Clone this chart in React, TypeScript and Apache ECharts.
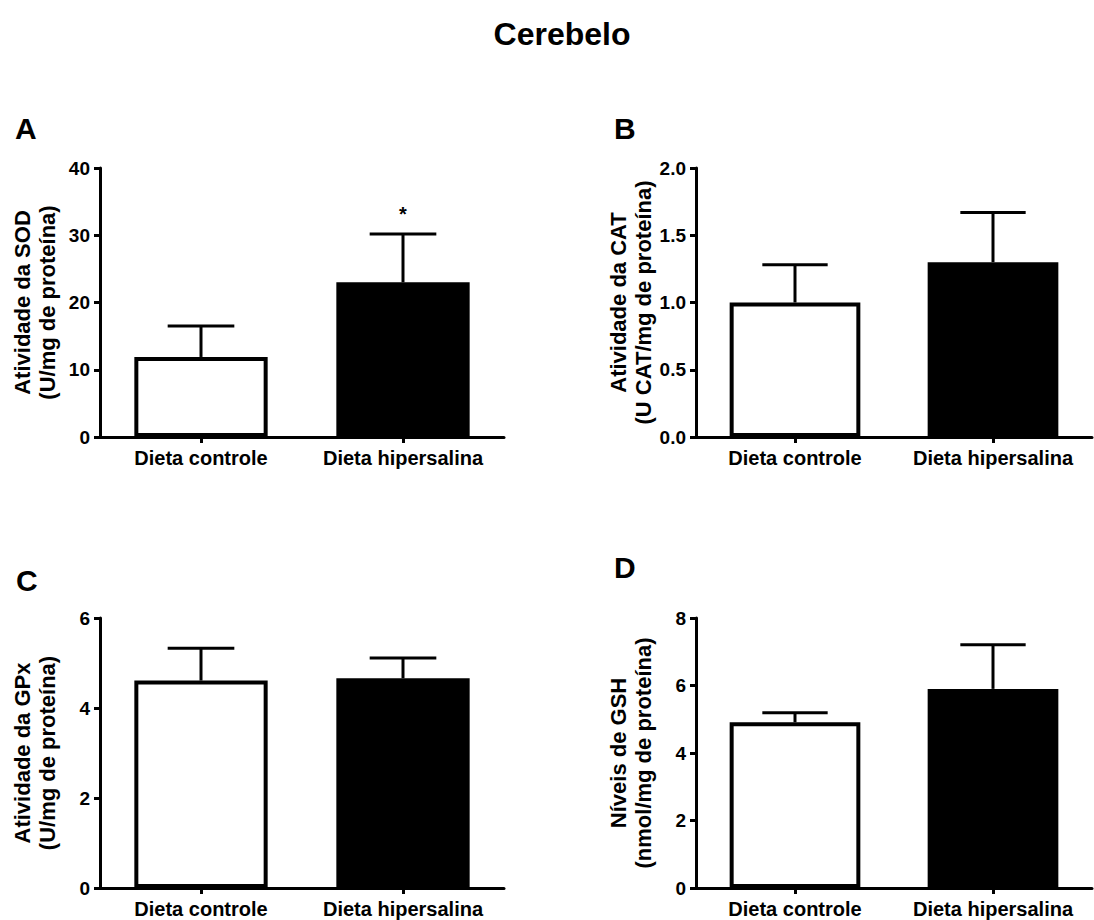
import React, { useEffect, useRef } from "react";
import * as echarts from "echarts";

const categories = ["Dieta controle", "Dieta hipersalina"];
const barFills = ["#ffffff", "#000000"];

const sodMean = [11.9, 23.0];
const sodErrTop = [16.5, 30.2];
const sodSig = ["", "*"];

const catMean = [1.0, 1.3];
const catErrTop = [1.28, 1.67];
const catSig = ["", ""];

const gpxMean = [4.61, 4.66];
const gpxErrTop = [5.33, 5.11];
const gpxSig = ["", ""];

const gshMean = [4.91, 5.9];
const gshErrTop = [5.19, 7.21];
const gshSig = ["", ""];

const panelLetters = ["A", "B", "C", "D"];
const yTitles = [
  "Atividade da SOD\n(U/mg de proteína)",
  "Atividade da CAT\n(U CAT/mg de proteína)",
  "Atividade da GPx\n(U/mg de proteína)",
  "Níveis de GSH\n(nmol/mg de proteína)",
];
const yMax = [40, 2, 6, 8];
const yInterval = [10, 0.5, 2, 2];
const yDecimals = [0, 1, 0, 0];
const chartTitle = "Cerebelo";

const FONT = "'Liberation Sans', Arial, Helvetica, sans-serif";

export default function App() {
  const ref = useRef<HTMLDivElement>(null);

  useEffect(() => {
    if (!ref.current) return;
    const chart = echarts.init(ref.current, undefined, { renderer: "svg" });

    const means = [sodMean, catMean, gpxMean, gshMean];
    const errs = [sodErrTop, catErrTop, gpxErrTop, gshErrTop];
    const sigs = [sodSig, catSig, gpxSig, gshSig];

    const grids = [
      { left: 100, top: 168, width: 404, height: 269 },
      { left: 696, top: 168, width: 396, height: 269 },
      { left: 100, top: 618, width: 404, height: 270 },
      { left: 696, top: 618, width: 396, height: 270 },
    ];
    const letterPos = [
      { x: 15, y: 128 },
      { x: 614, y: 128 },
      { x: 16, y: 580 },
      { x: 614, y: 567 },
    ];

    const xAxes = grids.map((_, i) => ({
      type: "category",
      gridIndex: i,
      data: categories,
      axisLine: { show: true, lineStyle: { color: "#000", width: 3 } },
      axisTick: { show: true, alignWithLabel: true, length: 6, lineStyle: { color: "#000", width: 3 } },
      axisLabel: {
        color: "#000",
        fontFamily: FONT,
        fontWeight: "bold",
        fontSize: 20,
        margin: 11,
        interval: 0,
        hideOverlap: false,
      },
      splitLine: { show: false },
    }));

    const yAxes = grids.map((_, i) => ({
      type: "value",
      gridIndex: i,
      min: 0,
      max: yMax[i],
      interval: yInterval[i],
      name: yTitles[i],
      nameLocation: "middle",
      nameRotate: 90,
      nameGap: 40,
      nameTextStyle: { color: "#000", fontFamily: FONT, fontWeight: "bold", fontSize: 22, lineHeight: 25 },
      axisLine: { show: true, lineStyle: { color: "#000", width: 3 } },
      axisTick: { show: true, length: 6, lineStyle: { color: "#000", width: 3 } },
      axisLabel: {
        color: "#000",
        fontFamily: FONT,
        fontWeight: "bold",
        fontSize: 19,
        margin: 10,
        formatter: (v: number) => v.toFixed(yDecimals[i]),
      },
      splitLine: { show: false },
    }));

    const series: any[] = [];
    grids.forEach((_, i) => {
      series.push({
        type: "bar",
        xAxisIndex: i,
        yAxisIndex: i,
        barWidth: "66%",
        data: means[i].map((v, j) => ({
          value: v,
          itemStyle: { color: barFills[j], borderColor: "#000", borderWidth: 4 },
        })),
        z: 2,
      });
      series.push({
        type: "custom",
        xAxisIndex: i,
        yAxisIndex: i,
        z: 3,
        data: means[i].map((v, j) => [j, v, errs[i][j]]),
        encode: { x: 0, y: [1, 2] },
        renderItem: (params: any, api: any) => {
          const j = api.value(0);
          const base = api.coord([j, api.value(1)]);
          const top = api.coord([j, api.value(2)]);
          const hw = api.size([1, 0])[0] * 0.165;
          const children: any[] = [
            {
              type: "line",
              shape: { x1: base[0], y1: base[1], x2: top[0], y2: top[1] },
              style: { stroke: "#000", lineWidth: 3 },
            },
            {
              type: "line",
              shape: { x1: top[0] - hw, y1: top[1], x2: top[0] + hw, y2: top[1] },
              style: { stroke: "#000", lineWidth: 3 },
            },
          ];
          const s = sigs[i][j];
          if (s) {
            children.push({
              type: "text",
              style: {
                text: s,
                x: top[0],
                y: top[1] - 20,
                align: "center",
                verticalAlign: "middle",
                fill: "#000",
                fontFamily: FONT,
                fontWeight: "bold",
                fontSize: 20,
              },
            });
          }
          return { type: "group", children };
        },
      });
    });

    const graphics: any[] = [
      {
        type: "text",
        x: 562,
        y: 34,
        style: {
          text: chartTitle,
          fill: "#000",
          font: `bold 32px ${FONT}`,
          textAlign: "center",
          textVerticalAlign: "middle",
          align: "center",
          verticalAlign: "middle",
        },
      },
      ...panelLetters.map((l, i) => ({
        type: "text",
        x: letterPos[i].x,
        y: letterPos[i].y,
        style: {
          text: l,
          fill: "#000",
          font: `bold 30px ${FONT}`,
          textAlign: "left",
          textVerticalAlign: "middle",
          align: "left",
          verticalAlign: "middle",
        },
      })),
    ];

    chart.setOption({
      animation: false,
      backgroundColor: "#ffffff",
      grid: grids,
      xAxis: xAxes,
      yAxis: yAxes,
      series,
      graphic: graphics,
    });

    return () => chart.dispose();
  }, []);

  return (
    <div
      ref={ref}
      style={{ position: "absolute", left: 0, top: 0, width: 1094, height: 920, background: "#fff" }}
    />
  );
}
